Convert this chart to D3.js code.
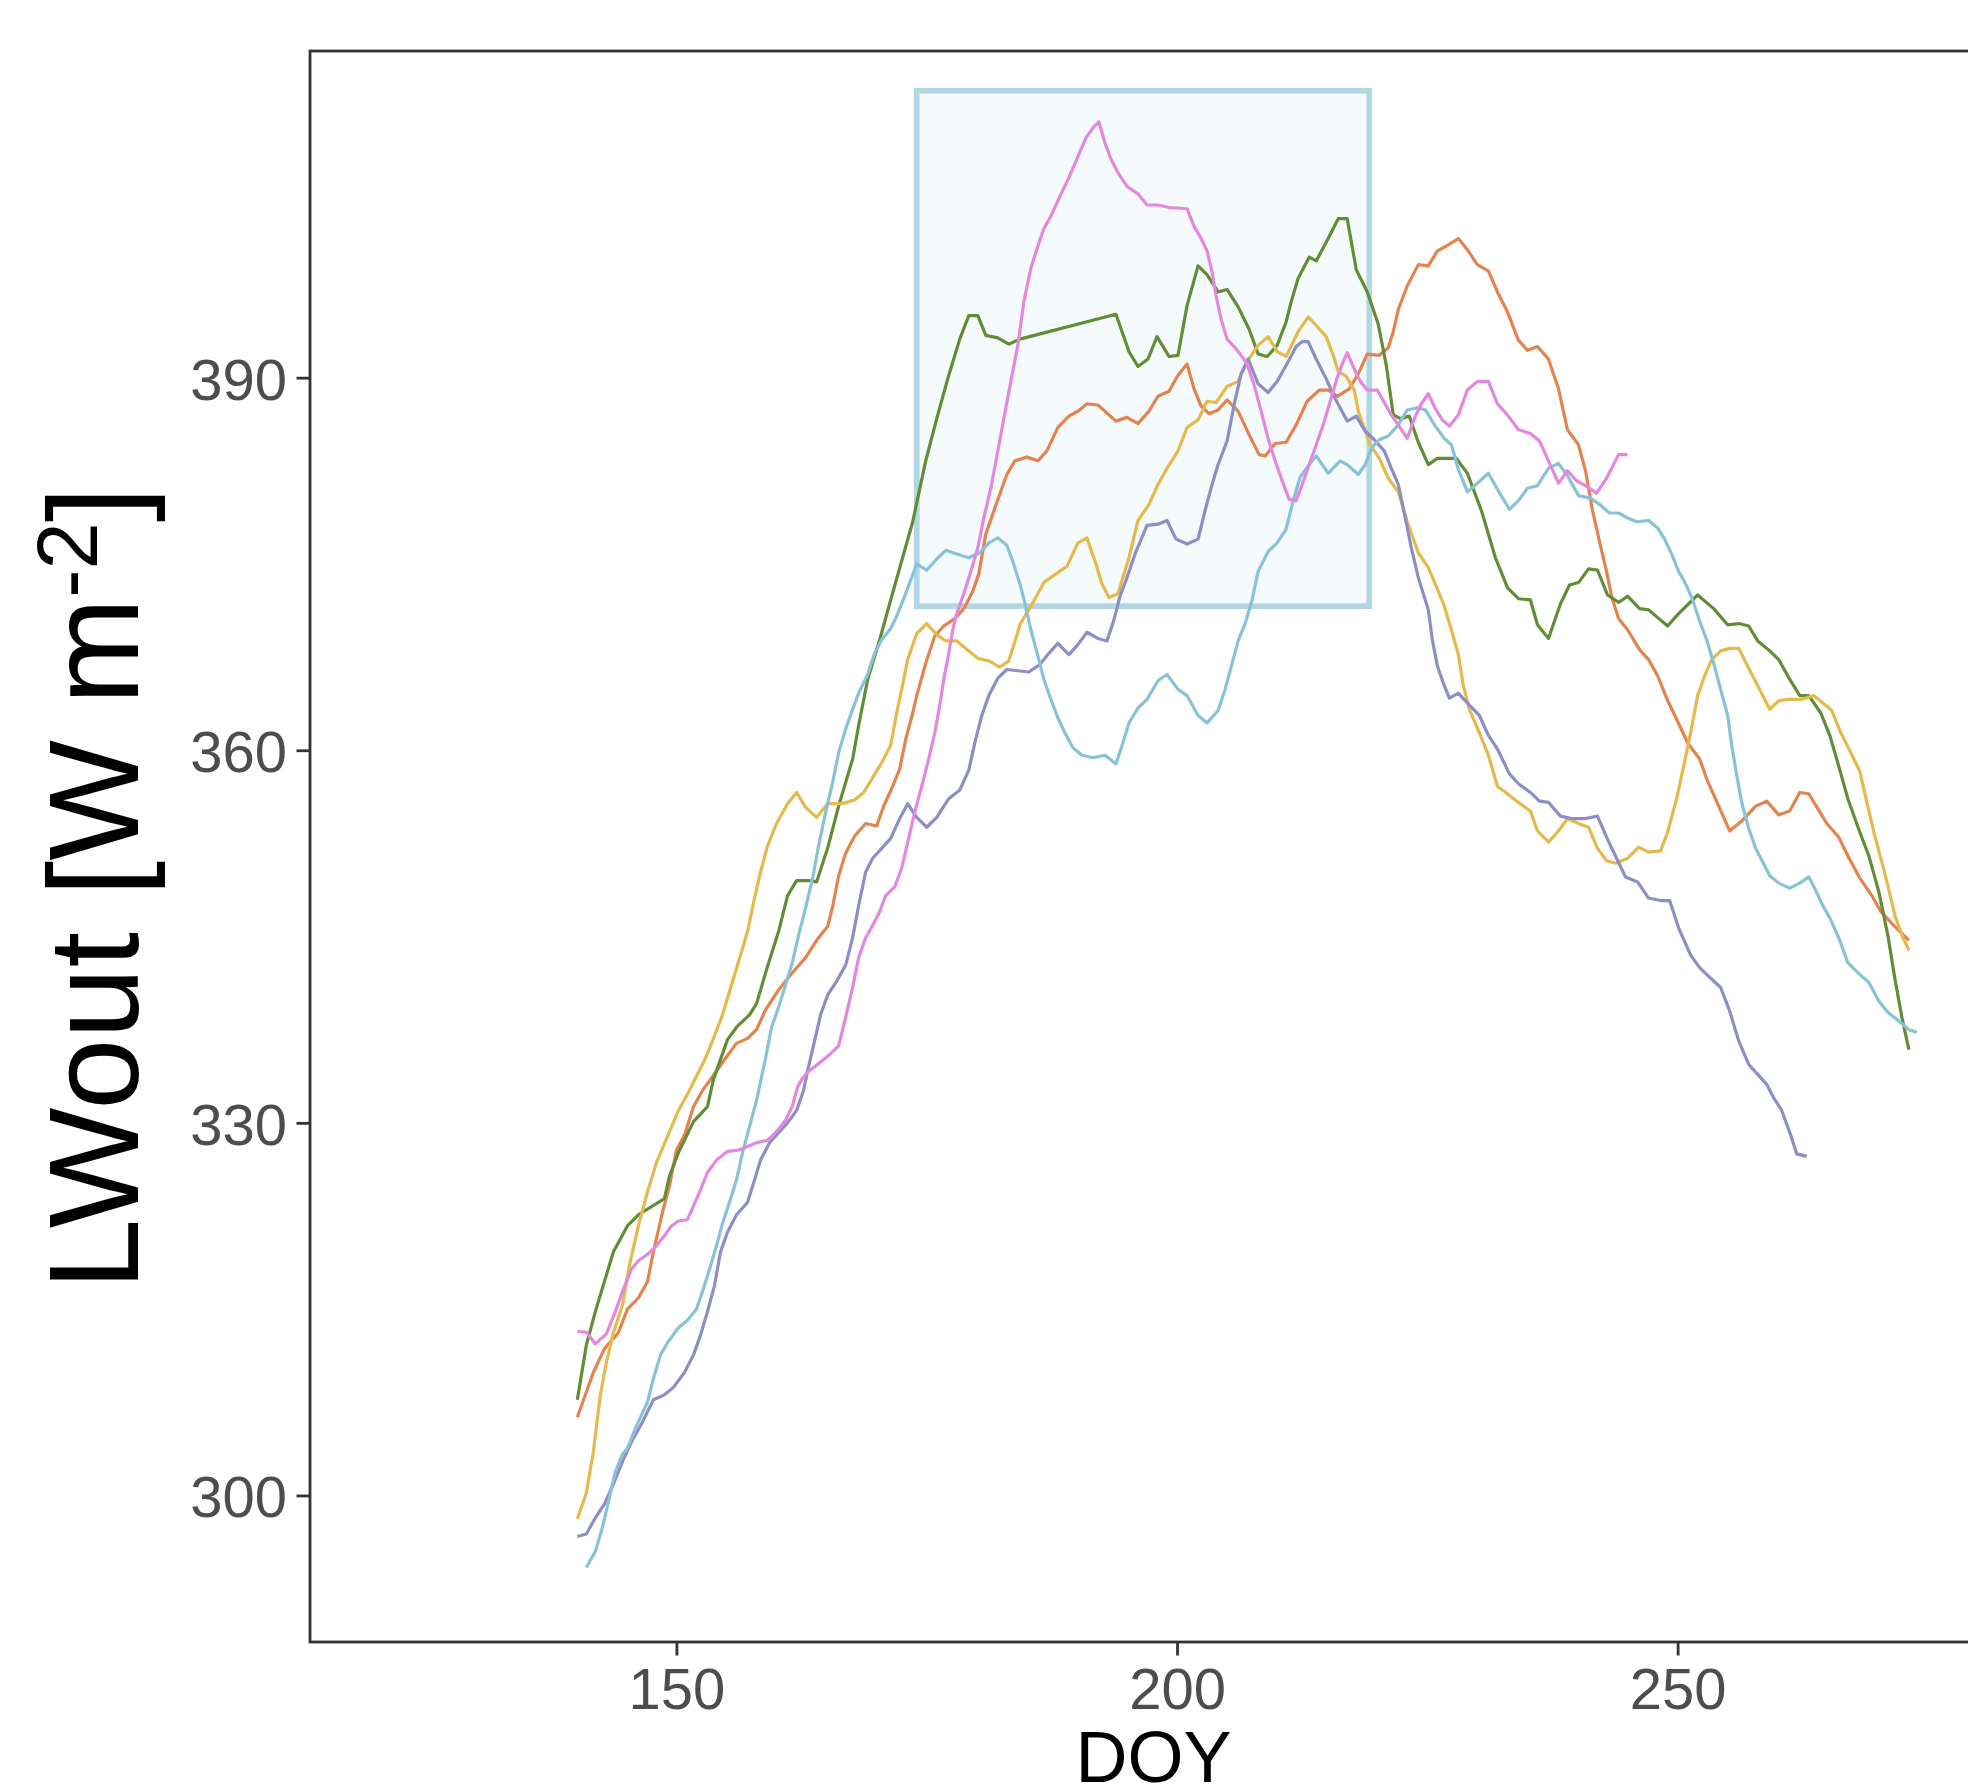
<!DOCTYPE html>
<html>
<head>
<meta charset="utf-8">
<script src="https://cdn.jsdelivr.net/npm/d3@7"></script>
<style>
  html, body { margin: 0; padding: 0; background: #ffffff; }
  svg { display: block; }
  text { font-family: "Liberation Sans", Arial, Helvetica, sans-serif; }
</style>
</head>
<body>
<svg id="chart" width="1968" height="1784"></svg>
<script>
// ---------------- data ----------------
const xTicks = [150, 200, 250];
const yTicks = [300, 330, 360, 390];
const xLabel = "DOY";

// highlighted window [DOY start, DOY end, value low, value high]
const highlightBox = [174, 219.2, 371.6, 413.1];

const seriesColors = ["#E3844F", "#638D35", "#E5B94B", "#8D8EC6", "#88C2D6", "#E387E0"];

const orangeSeries = [[140.1,306.3],[141.7,309.9],[142.8,311.8],[144.2,313.1],[145.1,315.0],[146.2,315.9],[147.1,317.2],[147.7,319.6],[148.6,322.8],[149.3,324.9],[150.0,327.8],[150.8,329.0],[151.7,331.3],[152.6,332.6],[153.5,333.6],[154.9,335.2],[156.0,336.4],[157.1,336.8],[158.0,337.5],[158.9,339.1],[160.2,340.7],[161.6,342.1],[162.9,343.3],[164.0,344.7],[165.1,345.8],[165.6,347.4],[166.2,349.9],[166.9,351.7],[167.8,353.1],[168.9,354.1],[170.0,353.9],[170.7,355.5],[171.6,357.1],[172.3,358.5],[172.9,360.9],[173.6,363.0],[174.0,364.4],[174.9,367.0],[175.8,369.2],[176.7,370.0],[177.8,370.6],[178.7,371.4],[179.6,372.8],[180.2,374.2],[180.9,377.4],[181.8,379.5],[183.0,382.2],[183.8,383.3],[185.0,383.6],[186.1,383.3],[187.0,384.1],[188.1,386.0],[189.2,386.9],[190.1,387.3],[191.0,387.9],[192.1,387.8],[193.9,386.5],[195.0,386.8],[196.1,386.3],[197.2,387.3],[198.1,388.5],[199.2,388.9],[200.1,390.2],[201.0,391.1],[201.7,389.1],[202.4,387.7],[203.2,387.1],[204.1,387.4],[205.0,388.2],[206.1,387.3],[207.2,385.4],[208.2,383.8],[208.8,383.7],[209.8,384.7],[210.9,384.8],[211.9,386.2],[213.0,388.1],[214.2,389.0],[215.1,389.0],[216.0,388.5],[217.2,389.1],[218.1,390.3],[219.0,391.9],[220.2,391.8],[221.1,392.4],[221.6,393.7],[222.1,395.5],[223.0,397.4],[224.1,399.1],[225.1,399.0],[226.0,400.2],[226.9,400.6],[228.1,401.2],[229.0,400.3],[230.0,399.1],[231.1,398.6],[232.0,396.9],[233.0,395.3],[234.1,393.0],[235.0,392.2],[236.0,392.5],[237.1,391.5],[238.1,389.1],[239.0,385.8],[240.1,384.6],[240.8,382.5],[241.5,379.3],[242.2,376.8],[242.9,374.4],[243.4,372.4],[244.1,370.6],[245.0,369.7],[246.2,368.1],[247.1,367.3],[248.0,366.0],[249.0,364.0],[249.9,362.5],[251.0,360.6],[252.2,359.3],[252.9,357.7],[254.1,355.5],[255.2,353.5],[256.4,354.3],[257.8,355.5],[258.9,355.9],[260.1,354.8],[261.2,355.1],[262.2,356.6],[263.1,356.5],[264.0,355.3],[264.9,354.1],[266.1,353.0],[267.0,351.5],[268.2,349.7],[269.4,348.3],[270.3,347.0],[271.7,345.8],[273.1,344.7]];

const greenSeries = [[140.1,307.7],[141.0,312.1],[141.9,314.8],[142.8,317.2],[143.7,319.6],[145.1,321.7],[146.2,322.6],[148.8,323.9],[149.3,325.7],[150.2,327.6],[151.7,330.1],[153.1,331.3],[153.7,333.5],[155.1,336.7],[156.0,337.7],[157.3,338.7],[158.0,339.6],[159.1,342.6],[160.2,345.4],[161.1,348.3],[162.0,349.5],[163.3,349.5],[164.0,349.4],[165.1,352.1],[166.2,355.5],[167.6,359.3],[168.2,362.0],[169.1,365.7],[170.3,368.9],[171.4,372.1],[173.6,378.4],[174.9,383.3],[176.0,386.7],[177.2,390.2],[178.3,393.1],[179.2,395.0],[180.1,395.0],[180.9,393.4],[182.1,393.2],[183.2,392.7],[184.3,393.1],[193.9,395.1],[195.2,392.1],[196.1,390.9],[197.1,391.5],[198.0,393.3],[199.2,391.7],[200.1,391.8],[201.0,395.8],[202.1,399.0],[203.0,398.3],[204.1,396.9],[205.0,397.1],[206.1,395.7],[207.2,393.9],[208.1,391.9],[209.0,391.7],[210.0,392.6],[210.9,394.5],[211.4,396.1],[212.1,398.0],[213.2,399.7],[213.9,399.4],[215.1,401.2],[216.1,402.8],[217.0,402.8],[217.9,398.7],[219.0,396.9],[220.1,394.3],[220.9,391.0],[221.6,387.0],[222.3,386.7],[223.2,386.9],[224.1,384.8],[225.1,383.0],[226.0,383.5],[227.9,383.5],[229.0,382.3],[230.4,379.3],[231.8,375.5],[233.0,373.1],[234.1,372.2],[235.3,372.1],[236.0,370.1],[237.1,369.0],[238.3,371.8],[239.2,373.3],[240.1,373.5],[241.1,374.6],[242.0,374.5],[243.0,372.5],[244.1,371.9],[245.0,372.4],[246.2,371.4],[247.1,371.3],[249.0,370.0],[250.1,371.0],[252.0,372.5],[253.6,371.4],[255.0,370.1],[256.1,370.2],[257.1,370.0],[258.0,368.8],[259.2,368.0],[260.1,367.3],[261.2,365.7],[262.2,364.4],[263.1,364.4],[264.3,363.0],[265.2,361.2],[266.1,358.7],[267.0,356.1],[268.2,353.4],[269.1,351.5],[270.1,348.6],[271.0,345.1],[271.7,341.6],[272.4,338.5],[273.1,335.9]];

const yellowSeries = [[140.1,298.1],[141.0,300.2],[141.7,303.5],[142.4,308.1],[143.0,310.7],[143.7,313.1],[144.6,315.3],[145.3,318.5],[146.2,321.7],[147.1,324.4],[148.0,326.8],[149.1,328.9],[150.2,331.0],[151.3,332.6],[152.9,335.2],[153.7,336.8],[154.6,338.7],[155.5,341.1],[156.4,343.5],[157.1,345.4],[157.8,348.1],[158.4,350.2],[159.1,352.3],[160.0,354.1],[161.1,355.7],[162.0,356.6],[162.9,355.4],[164.0,354.6],[165.1,355.7],[166.5,355.7],[167.8,356.0],[168.7,356.6],[169.6,357.8],[170.5,359.0],[171.4,360.4],[172.0,363.0],[172.5,364.9],[173.1,367.3],[174.0,369.4],[175.0,370.2],[176.0,369.3],[176.9,368.8],[178.0,368.8],[178.9,368.2],[180.1,367.4],[181.2,367.2],[182.3,366.7],[183.2,367.2],[183.9,369.0],[184.3,370.1],[185.4,371.6],[186.1,372.6],[186.7,373.5],[187.9,374.2],[189.0,374.8],[190.1,376.7],[191.0,377.1],[191.9,375.0],[192.5,373.4],[193.2,372.3],[194.1,372.6],[195.2,375.5],[196.1,378.5],[197.2,379.8],[198.1,381.4],[199.0,382.7],[200.1,384.1],[201.0,386.0],[202.1,386.6],[203.0,388.1],[203.9,388.0],[205.0,389.3],[206.1,389.7],[207.0,391.3],[208.1,392.6],[209.1,393.3],[210.0,392.1],[210.9,391.7],[212.1,393.7],[213.1,394.9],[213.9,394.2],[214.9,393.3],[215.6,391.8],[216.1,390.5],[216.9,390.1],[217.7,389.0],[218.1,387.3],[218.8,385.7],[219.3,384.6],[220.2,383.5],[221.1,381.9],[222.1,380.8],[223.0,378.4],[224.1,375.9],[225.1,374.7],[226.0,373.0],[226.7,371.6],[227.4,369.7],[228.1,367.7],[228.6,365.2],[229.2,363.3],[230.2,361.4],[231.1,359.6],[232.0,357.1],[233.0,356.5],[234.1,355.8],[235.3,355.1],[236.0,353.5],[237.1,352.6],[238.1,353.5],[239.0,354.5],[240.1,354.1],[241.1,353.8],[242.0,352.1],[242.9,351.1],[243.8,350.9],[245.0,351.3],[246.1,352.2],[247.1,351.8],[248.3,351.9],[249.0,353.4],[249.9,356.1],[250.6,358.7],[251.3,361.4],[252.0,364.4],[252.7,366.0],[253.4,367.3],[254.3,368.0],[255.2,368.2],[256.1,368.2],[257.1,366.6],[258.0,365.2],[259.2,363.3],[260.1,364.0],[261.2,364.1],[262.4,364.1],[263.6,364.4],[264.5,363.8],[265.4,363.2],[266.3,361.4],[267.3,359.8],[268.2,358.3],[268.9,355.8],[269.6,353.4],[270.3,351.3],[271.0,349.1],[271.7,346.7],[272.4,345.1],[273.1,343.9]];

const purpleSeries = [[140.1,296.7],[141.0,296.9],[141.9,298.2],[142.8,299.3],[143.7,300.9],[144.6,302.7],[145.5,304.3],[146.6,305.9],[147.7,307.7],[148.8,308.1],[149.7,308.7],[150.8,309.9],[151.7,311.3],[152.4,312.9],[153.1,314.8],[153.8,316.9],[154.4,319.6],[155.1,321.2],[156.0,322.6],[157.1,323.6],[157.8,325.4],[158.4,327.0],[159.3,328.4],[160.2,329.2],[161.1,330.0],[162.0,331.0],[162.7,332.6],[163.1,334.2],[163.8,336.6],[164.4,338.7],[165.1,340.3],[166.0,341.4],[166.9,342.7],[167.6,344.9],[168.2,347.5],[168.9,350.2],[169.6,351.3],[170.5,352.1],[171.4,352.9],[172.3,354.5],[173.1,355.7],[174.0,354.6],[175.0,353.8],[176.0,354.6],[177.2,356.1],[178.3,356.8],[179.2,358.4],[179.8,360.6],[180.5,362.8],[181.2,364.4],[182.1,365.8],[183.0,366.5],[184.1,366.4],[185.2,366.3],[186.3,366.9],[187.2,367.8],[188.1,368.6],[189.2,367.7],[190.1,368.5],[191.0,369.5],[192.1,369.0],[193.0,368.8],[193.7,370.5],[194.3,372.4],[195.0,373.9],[195.9,376.0],[197.0,378.1],[198.1,378.2],[199.0,378.5],[199.9,377.0],[201.0,376.6],[202.1,377.0],[202.8,379.3],[203.5,381.4],[204.1,383.0],[205.0,384.9],[205.7,387.8],[206.4,390.3],[207.1,391.5],[208.1,389.5],[209.1,388.8],[210.0,389.7],[210.9,391.0],[211.9,392.5],[212.5,392.9],[213.1,392.9],[213.9,391.5],[214.9,389.9],[215.8,388.3],[217.0,386.5],[217.9,386.9],[218.8,385.7],[219.7,385.0],[220.7,384.1],[221.4,382.7],[222.1,381.4],[222.8,378.7],[223.4,376.3],[224.1,373.9],[225.1,371.3],[225.5,368.9],[226.0,366.8],[226.6,365.4],[227.2,364.2],[228.1,364.6],[229.0,363.8],[230.2,362.8],[231.1,361.2],[232.0,360.1],[233.2,358.1],[234.1,357.3],[235.3,356.6],[236.2,355.9],[237.1,355.8],[238.3,354.7],[239.4,354.5],[240.8,354.5],[242.0,354.7],[242.9,353.0],[243.9,351.3],[244.8,349.8],[246.0,349.4],[247.1,348.1],[248.3,347.9],[249.2,347.9],[250.1,345.7],[251.3,343.5],[252.2,342.5],[253.1,341.8],[254.3,340.9],[255.2,339.0],[256.1,336.6],[257.1,334.7],[258.0,333.9],[258.9,333.1],[259.6,332.0],[260.4,331.0],[261.3,329.0],[261.9,327.5],[262.9,327.3]];

const lightblueSeries = [[141.0,294.2],[141.9,295.5],[142.6,297.4],[143.3,299.8],[143.9,301.9],[144.6,303.3],[145.1,303.8],[145.9,305.4],[147.1,307.5],[147.7,309.4],[148.4,311.3],[149.1,312.3],[150.2,313.5],[151.1,314.1],[152.0,315.0],[152.6,316.4],[153.3,318.2],[154.0,320.1],[154.6,321.9],[155.3,323.6],[156.0,325.4],[156.6,327.6],[157.3,329.7],[158.0,331.8],[158.9,335.2],[159.5,337.7],[160.2,339.3],[160.9,341.1],[161.6,343.0],[162.2,345.1],[162.9,347.3],[163.6,349.7],[164.2,352.3],[164.9,355.0],[165.6,357.4],[166.2,359.8],[166.9,361.7],[167.6,363.3],[168.2,364.6],[169.1,366.1],[169.8,367.8],[170.5,368.9],[171.4,369.8],[172.0,370.8],[172.7,372.2],[173.4,373.7],[174.0,375.0],[175.0,374.5],[176.0,375.4],[176.9,376.1],[178.0,375.8],[179.2,375.5],[180.3,375.9],[181.2,376.7],[182.1,377.1],[183.0,376.5],[183.6,375.2],[184.3,373.4],[184.7,372.2],[185.4,369.7],[186.1,367.6],[186.7,365.7],[187.4,364.1],[188.1,362.6],[188.8,361.4],[189.6,360.2],[190.5,359.6],[191.6,359.4],[192.8,359.6],[193.9,358.9],[194.6,360.6],[195.2,362.2],[196.1,363.4],[197.0,364.1],[198.1,365.6],[199.0,366.1],[200.1,364.9],[201.0,364.4],[202.1,362.8],[203.0,362.2],[204.1,363.2],[204.8,364.9],[205.5,367.0],[206.1,368.8],[206.8,370.2],[207.5,372.1],[208.1,374.4],[209.1,376.0],[210.0,376.7],[210.9,377.8],[211.6,380.1],[212.3,382.0],[213.2,383.0],[213.9,383.7],[215.1,382.3],[216.3,383.3],[217.0,383.0],[218.1,382.2],[218.8,383.0],[219.5,384.4],[220.2,385.0],[221.1,385.3],[222.1,386.2],[223.0,387.4],[224.1,387.6],[224.8,387.4],[225.8,386.1],[226.7,385.1],[227.4,384.6],[228.1,382.6],[229.0,380.8],[230.0,381.5],[231.1,382.3],[232.3,380.6],[233.2,379.4],[234.1,380.1],[235.0,381.1],[236.0,381.3],[237.1,382.7],[238.1,383.1],[239.0,382.1],[240.1,380.5],[241.3,380.3],[242.2,379.8],[243.2,379.1],[244.1,379.1],[245.0,378.7],[245.9,378.4],[247.1,378.5],[248.0,377.9],[248.7,377.0],[249.4,375.8],[250.1,374.4],[250.8,373.4],[251.5,372.1],[252.2,370.4],[252.9,368.9],[253.6,367.0],[254.3,364.9],[255.0,362.8],[255.4,360.4],[255.9,358.0],[256.4,355.8],[257.1,353.7],[257.8,352.1],[258.5,351.0],[259.2,349.9],[260.1,349.3],[261.2,348.9],[262.2,349.3],[263.1,349.8],[263.8,348.7],[264.5,347.5],[265.2,346.5],[266.1,344.9],[267.0,342.9],[268.0,342.1],[269.1,341.3],[270.1,339.8],[271.0,338.9],[272.1,338.2],[273.1,337.5],[273.9,337.3]];

const pinkSeries = [[140.1,313.2],[141.0,313.15],[141.9,312.2],[143.0,313.0],[143.9,314.8],[144.6,316.4],[145.5,318.2],[146.2,318.9],[147.1,319.4],[148.0,320.1],[148.8,320.9],[149.5,321.7],[150.2,322.1],[151.1,322.2],[151.7,323.3],[152.4,324.6],[153.1,326.0],[154.0,327.0],[155.1,327.7],[156.2,327.8],[157.1,328.1],[158.0,328.4],[159.1,328.6],[160.0,329.3],[160.9,330.2],[161.6,331.4],[162.1,332.9],[162.6,333.6],[163.3,334.2],[164.4,334.9],[165.3,335.5],[166.2,336.2],[166.9,338.5],[167.6,340.9],[168.2,343.3],[168.9,344.9],[169.6,345.9],[170.3,347.0],[170.9,348.3],[171.8,349.0],[172.5,350.5],[173.1,352.6],[173.8,355.0],[174.5,357.1],[175.2,359.3],[175.8,361.4],[176.3,363.6],[176.7,365.7],[177.2,367.8],[177.6,369.7],[178.0,371.0],[178.7,372.6],[179.4,374.4],[180.1,376.3],[180.7,378.7],[181.4,381.1],[182.1,384.1],[182.7,386.7],[183.4,389.7],[184.1,392.6],[184.7,396.1],[185.4,398.8],[186.1,400.6],[186.7,402.0],[187.4,403.0],[188.3,404.6],[189.2,406.1],[190.1,407.8],[190.9,409.3],[191.7,410.2],[192.2,410.6],[192.8,408.9],[193.4,407.6],[194.1,406.5],[195.0,405.4],[196.1,404.8],[197.0,403.9],[198.1,403.9],[199.2,403.7],[201.0,403.6],[201.7,402.2],[202.4,401.2],[203.0,400.2],[203.5,398.5],[203.9,396.6],[204.4,394.7],[205.0,393.1],[205.7,392.5],[206.4,391.8],[207.0,391.1],[207.7,389.4],[208.4,387.3],[209.1,385.1],[209.8,383.3],[210.5,381.7],[211.2,380.2],[211.9,380.1],[212.5,381.4],[213.2,383.0],[213.9,384.6],[214.6,386.2],[215.3,388.1],[216.0,390.0],[216.6,391.3],[217.0,392.0],[217.7,390.7],[218.3,389.7],[219.0,389.0],[220.0,389.0],[220.7,388.0],[221.4,387.0],[222.1,386.2],[223.0,385.1],[223.7,386.7],[224.4,387.9],[225.1,388.7],[225.8,387.5],[226.5,386.6],[227.2,386.1],[228.1,387.0],[229.0,389.0],[230.0,389.7],[231.1,389.7],[232.0,387.9],[233.0,387.0],[234.1,385.8],[235.3,385.5],[236.2,384.9],[237.1,383.3],[238.1,381.5],[239.0,382.5],[239.9,381.7],[240.8,381.3],[241.9,380.7],[242.9,381.9],[244.1,383.8],[245.0,383.8]];

const allSeries = [orangeSeries, greenSeries, yellowSeries, purpleSeries, lightblueSeries, pinkSeries];

// ---------------- layout ----------------
const svg = d3.select("#chart");
const panel = { left: 310, right: 1997, top: 51, bottom: 1642 };

const x = d3.scaleLinear().domain([113.4, 281.9]).range([panel.left, panel.right]);
const y = d3.scaleLinear().domain([288.2, 416.3]).range([panel.bottom, panel.top]);

svg.append("rect").attr("width", 1968).attr("height", 1784).attr("fill", "#ffffff");

// highlight box
svg.append("rect")
  .attr("x", x(highlightBox[0]))
  .attr("y", y(highlightBox[3]))
  .attr("width", x(highlightBox[1]) - x(highlightBox[0]))
  .attr("height", y(highlightBox[2]) - y(highlightBox[3]))
  .attr("fill", "#ADD8E6").attr("fill-opacity", 0.12)
  .attr("stroke", "#B3D7E2").attr("stroke-width", 5.8);

// lines
const line = d3.line().x(d => x(d[0])).y(d => y(d[1]));
svg.append("g").selectAll("path")
  .data(allSeries)
  .join("path")
  .attr("d", line)
  .attr("fill", "none")
  .attr("stroke", (d, i) => seriesColors[i])
  .attr("stroke-width", 3.2)
  .attr("stroke-linejoin", "round")
  .attr("stroke-linecap", "butt");

// panel border
svg.append("rect")
  .attr("x", panel.left).attr("y", panel.top)
  .attr("width", panel.right - panel.left).attr("height", panel.bottom - panel.top)
  .attr("fill", "none").attr("stroke", "#333333").attr("stroke-width", 2.8);

// axes
const xAxis = svg.append("g")
  .attr("transform", `translate(0,${panel.bottom})`)
  .call(d3.axisBottom(x).tickValues(xTicks).tickSize(13.5).tickPadding(12).tickFormat(d3.format("d")));
const yAxis = svg.append("g")
  .attr("transform", `translate(${panel.left},0)`)
  .call(d3.axisLeft(y).tickValues(yTicks).tickSize(13.5).tickPadding(9.5).tickFormat(d3.format("d")));

[xAxis, yAxis].forEach(g => {
  g.select(".domain").remove();
  g.selectAll(".tick line").attr("stroke", "#333333").attr("stroke-width", 2.8);
  g.selectAll(".tick text")
    .attr("fill", "#4D4D4D")
    .style("font-size", "58px")
    .style("font-family", '"Liberation Sans", Arial, sans-serif');
});
yAxis.selectAll(".tick text").attr("dy", "0.37em");

// axis titles
svg.append("text")
  .attr("x", (panel.left + panel.right) / 2)
  .attr("y", 1782)
  .attr("text-anchor", "middle")
  .attr("fill", "#000000")
  .style("font-size", "72px")
  .text(xLabel);

const yTitle = svg.append("text")
  .attr("transform", "translate(138,1290) rotate(-90)")
  .attr("fill", "#000000")
  .style("font-size", "128px");
yTitle.append("tspan").text("LWout [W m");
yTitle.append("tspan").attr("dy", -41).style("font-size", "85px").text("-2");
yTitle.append("tspan").attr("dy", 41).text("]");
</script>
</body>
</html>
